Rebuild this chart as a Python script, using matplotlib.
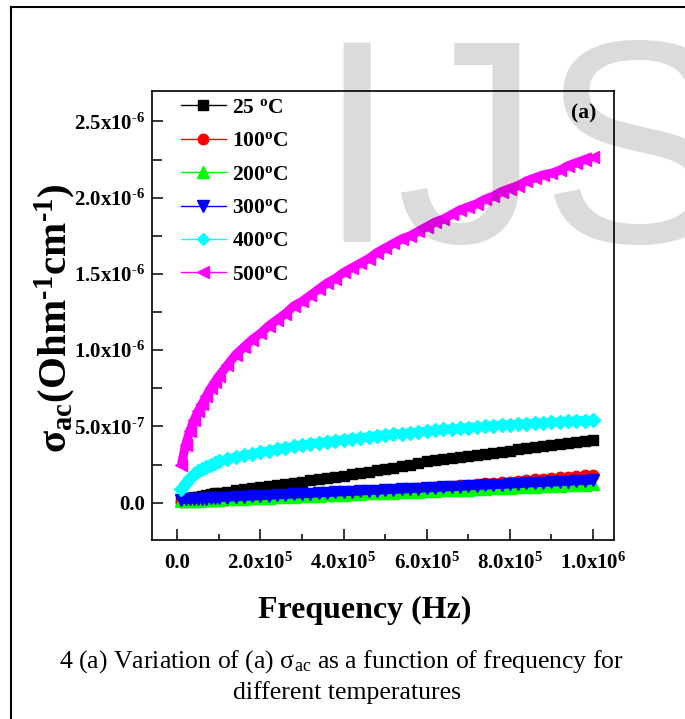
import matplotlib
matplotlib.use('Agg')
import matplotlib.pyplot as plt
from matplotlib.lines import Line2D
from matplotlib.ticker import MultipleLocator
import numpy as np

plt.rcParams['font.family'] = ['Liberation Serif', 'DejaVu Serif']
plt.rcParams['font.weight'] = 'bold'
plt.rcParams['mathtext.fontset'] = 'custom'
plt.rcParams['mathtext.rm'] = 'Liberation Serif'
plt.rcParams['mathtext.bf'] = 'Liberation Serif:bold'
plt.rcParams['mathtext.it'] = 'Liberation Serif:italic'

# ---------------- data ----------------
freq_hz = [10000, 20000, 30000, 40000, 50000, 60000, 70000, 80000, 90000, 100000,
           120000, 140000, 160000, 180000, 200000, 220000, 240000, 260000, 280000, 300000,
           320000, 340000, 360000, 380000, 400000, 420000, 440000, 460000, 480000, 500000,
           520000, 540000, 560000, 580000, 600000, 620000, 640000, 660000, 680000, 700000,
           720000, 740000, 760000, 780000, 800000, 820000, 840000, 860000, 880000, 900000,
           920000, 940000, 960000, 980000, 1000000]

# sigma_ac in units of 1e-6 Ohm^-1 cm^-1
sigma_25 = [0.020, 0.025, 0.030, 0.035, 0.040, 0.045, 0.050, 0.055, 0.060, 0.064,
            0.073, 0.082, 0.089, 0.096, 0.103, 0.110, 0.117, 0.124, 0.131, 0.138,
            0.146, 0.154, 0.162, 0.170, 0.178, 0.186, 0.194, 0.203, 0.212, 0.221,
            0.230, 0.240, 0.250, 0.260, 0.270, 0.279, 0.286, 0.293, 0.300, 0.307,
            0.314, 0.321, 0.328, 0.335, 0.342, 0.349, 0.356, 0.363, 0.370, 0.377,
            0.384, 0.391, 0.398, 0.404, 0.410]
sigma_100 = [0.005, 0.006, 0.008, 0.009, 0.010, 0.011, 0.013, 0.014, 0.015, 0.017,
             0.019, 0.022, 0.025, 0.028, 0.030, 0.033, 0.036, 0.039, 0.042, 0.045,
             0.049, 0.052, 0.055, 0.058, 0.062, 0.065, 0.068, 0.072, 0.075, 0.079,
             0.083, 0.086, 0.090, 0.094, 0.098, 0.102, 0.105, 0.109, 0.113, 0.117,
             0.122, 0.126, 0.130, 0.134, 0.138, 0.143, 0.147, 0.152, 0.156, 0.161,
             0.165, 0.170, 0.175, 0.179, 0.184]
sigma_200 = [0.009, 0.010, 0.011, 0.012, 0.014, 0.015, 0.016, 0.017, 0.018, 0.019,
             0.021, 0.024, 0.026, 0.028, 0.030, 0.033, 0.035, 0.037, 0.039, 0.042,
             0.044, 0.046, 0.048, 0.051, 0.053, 0.055, 0.057, 0.060, 0.062, 0.064,
             0.066, 0.068, 0.071, 0.073, 0.075, 0.077, 0.080, 0.082, 0.084, 0.086,
             0.089, 0.091, 0.093, 0.095, 0.098, 0.100, 0.102, 0.104, 0.107, 0.109,
             0.111, 0.113, 0.116, 0.118, 0.120]
sigma_300 = [0.019, 0.021, 0.022, 0.023, 0.024, 0.026, 0.027, 0.028, 0.030, 0.031,
             0.033, 0.036, 0.038, 0.041, 0.044, 0.046, 0.049, 0.051, 0.054, 0.056,
             0.059, 0.062, 0.064, 0.067, 0.069, 0.072, 0.074, 0.077, 0.079, 0.082,
             0.085, 0.087, 0.090, 0.092, 0.095, 0.097, 0.100, 0.102, 0.105, 0.108,
             0.110, 0.113, 0.115, 0.118, 0.120, 0.123, 0.126, 0.128, 0.131, 0.133,
             0.136, 0.138, 0.141, 0.143, 0.146]
sigma_400 = [0.090, 0.130, 0.160, 0.185, 0.205, 0.220, 0.235, 0.250, 0.260, 0.270,
             0.285, 0.300, 0.310, 0.320, 0.330, 0.340, 0.350, 0.360, 0.370, 0.378,
             0.385, 0.392, 0.400, 0.407, 0.413, 0.420, 0.425, 0.432, 0.438, 0.443,
             0.448, 0.453, 0.458, 0.463, 0.468, 0.475, 0.480, 0.484, 0.488, 0.492,
             0.496, 0.500, 0.505, 0.509, 0.512, 0.515, 0.518, 0.521, 0.524, 0.527,
             0.530, 0.533, 0.535, 0.538, 0.540]
sigma_500 = [0.25, 0.38, 0.47, 0.54, 0.60, 0.65, 0.70, 0.75, 0.79, 0.83,
             0.90, 0.97, 1.02, 1.07, 1.11, 1.16, 1.20, 1.24, 1.29, 1.32,
             1.36, 1.40, 1.44, 1.47, 1.51, 1.54, 1.57, 1.60, 1.64, 1.67,
             1.70, 1.73, 1.75, 1.78, 1.81, 1.84, 1.86, 1.89, 1.92, 1.94,
             1.96, 1.99, 2.01, 2.04, 2.06, 2.08, 2.11, 2.13, 2.15, 2.16,
             2.18, 2.21, 2.23, 2.25, 2.27]

DEG = r'$^{\mathregular{o}}$'
series_labels = ['25 ' + DEG + 'C', '100' + DEG + 'C', '200' + DEG + 'C',
                 '300' + DEG + 'C', '400' + DEG + 'C', '500' + DEG + 'C']
series_values = [sigma_25, sigma_100, sigma_200, sigma_300, sigma_400, sigma_500]
series_colors = ['#000000', '#ff0000', '#00ff00', '#0000ff', '#00ffff', '#ff00ff']
series_markers = ['s', 'o', '^', 'v', 'D', '<']
series_msize = [7, 7.5, 8, 8.5, 7.5, 9]
series_legend_msize = [6.5, 7.5, 8, 8, 6.5, 8]
series_band = [5.5, 5.0, 4.5, 6.0, 6.5, 6.5]

xtick_vals = [0, 200000, 400000, 600000, 800000, 1000000]
xtick_labels = ['0.0', r'2.0x10$^{\mathregular{5}}$', r'4.0x10$^{\mathregular{5}}$',
                r'6.0x10$^{\mathregular{5}}$', r'8.0x10$^{\mathregular{5}}$', r'1.0x10$^{\mathregular{6}}$']
ytick_vals = [0.0, 0.5, 1.0, 1.5, 2.0, 2.5]
ytick_labels = ['0.0', r'5.0x10$^{\mathregular{‐7}}$', r'1.0x10$^{\mathregular{‐6}}$',
                r'1.5x10$^{\mathregular{‐6}}$', r'2.0x10$^{\mathregular{‐6}}$', r'2.5x10$^{\mathregular{‐6}}$']

# ---------------- figure ----------------
W, H = 685, 719
fig = plt.figure(figsize=(W / 100, H / 100), dpi=100)
ax = fig.add_axes([152 / W, (H - 540) / H, 462 / W, 449 / H])

handles = []
for lab, vals, col, mk, ms, lms, bw in zip(series_labels, series_values, series_colors,
                                           series_markers, series_msize,
                                           series_legend_msize, series_band):
    ax.plot(freq_hz, vals, color=col, marker=mk, markersize=ms, markeredgecolor=col,
            markerfacecolor=col, linewidth=bw, solid_capstyle='butt')
    handles.append(Line2D([], [], color=col, marker=mk, markersize=lms,
                          markeredgecolor=col, markerfacecolor=col, linewidth=1.0, label=lab))

ax.set_xlim(-60900, 1050500)
ax.set_ylim(-0.245, 2.70)

ax.set_xticks(xtick_vals, xtick_labels)
ax.set_yticks(ytick_vals, ytick_labels)
ax.xaxis.set_minor_locator(MultipleLocator(100000))
ax.yaxis.set_minor_locator(MultipleLocator(0.25))
ax.tick_params(which='both', direction='in', top=False, right=False, width=1.1)
ax.tick_params(axis='x', which='major', length=8, pad=9, labelsize=15)
ax.tick_params(axis='x', which='minor', length=4)
ax.tick_params(axis='y', which='major', length=8, pad=5, labelsize=15)
ax.tick_params(axis='y', which='minor', length=7)
for sp in ax.spines.values():
    sp.set_linewidth(1.2)

leg = ax.legend(handles=handles, loc='upper left', bbox_to_anchor=(0.062, 0.985),
                frameon=False, borderpad=0, borderaxespad=0, handlelength=2.1,
                handletextpad=0.3, labelspacing=0.62, numpoints=1,
                prop={'size': 15.5, 'weight': 'bold'})

ax.text(0.934, 0.951, '(a)', transform=ax.transAxes, ha='center', va='center',
        fontsize=15.5, fontweight='bold')

# axis titles
fig.text(365 / W, 1 - 610 / H, 'Frequency (Hz)', ha='center', va='center',
         fontsize=23, fontweight='bold')
fig.text(55 / W, 1 - 318 / H,
         r'σ$_{\mathregular{ac}}$(Ohm$^{\mathregular{‐1}}$cm$^{\mathregular{‐1}}$)',
         ha='center', va='center', rotation=90, fontsize=29.5, fontweight='bold')

# caption
fig.text(342 / W, 1 - 662 / H,
         r'4 (a) Variation of (a) σ$_{\mathregular{ac}}$ as a function of frequency for',
         ha='center', va='center', fontsize=18.5, fontweight='normal')
fig.text(347 / W, 1 - 693 / H, 'different temperatures', ha='center', va='center',
         fontsize=18.5, fontweight='normal')

# page frame (left and top edges)
fig.add_artist(Line2D([11 / W, 11 / W], [0, 1 - 7 / H], transform=fig.transFigure,
                      color='black', linewidth=1.5))
fig.add_artist(Line2D([11 / W, 1.0], [1 - 7 / H, 1 - 7 / H], transform=fig.transFigure,
                      color='black', linewidth=1.5))

# watermark overlay
fig.text(316 / W, 1 - 242 / H, 'IJS', ha='left', va='baseline', fontsize=208,
         family='Liberation Sans', fontweight='normal', color='black', alpha=0.14, zorder=10)

fig.savefig('out.png', dpi=100)
